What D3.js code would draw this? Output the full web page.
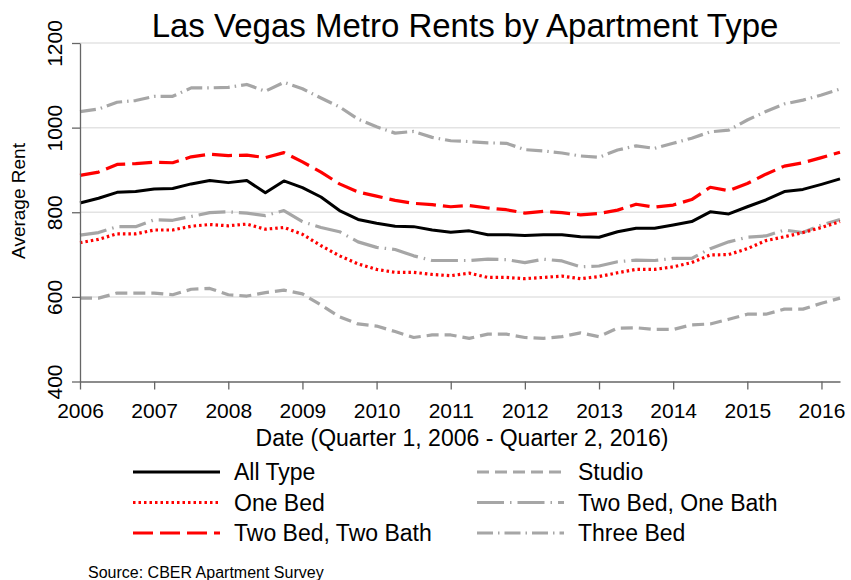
<!DOCTYPE html>
<html>
<head>
<meta charset="utf-8">
<script src="https://cdn.jsdelivr.net/npm/d3@7"></script>
<style>
  body { margin: 0; background: #fff; }
  svg { font-family: "Liberation Sans", Arial, sans-serif; }
</style>
</head>
<body>
<div id="chart"></div>
<script>
// quarters, Q1 2006 - Q2 2016
var quarters = ["2006Q1","2006Q2","2006Q3","2006Q4","2007Q1","2007Q2","2007Q3","2007Q4",
    "2008Q1","2008Q2","2008Q3","2008Q4","2009Q1","2009Q2","2009Q3","2009Q4",
    "2010Q1","2010Q2","2010Q3","2010Q4","2011Q1","2011Q2","2011Q3","2011Q4",
    "2012Q1","2012Q2","2012Q3","2012Q4","2013Q1","2013Q2","2013Q3","2013Q4",
    "2014Q1","2014Q2","2014Q3","2014Q4","2015Q1","2015Q2","2015Q3","2015Q4",
    "2016Q1","2016Q2"];

var allType = [822,833,847,849,855,856,867,875,870,875,846,874,858,836,804,783,
    774,767,766,758,753,756,747,747,745,747,747,742,741,754,762,762,
    770,778,801,796,813,829,849,854,866,879];
var oneBed = [728,736,749,749,758,758,767,771,768,772,760,764,748,721,697,678,
    665,658,658,653,650,656,646,646,643,646,649,643,648,657,665,665,
    671,681,699,700,714,733,742,752,764,778];
var twoBedTwoBath = [887,895,913,915,918,917,931,937,934,935,929,941,919,895,867,848,
    838,828,821,818,813,816,810,806,798,802,799,794,797,805,819,812,
    817,830,859,851,868,890,909,917,929,942];
var studio = [597,597,609,609,609,605,618,620,605,602,610,616,607,581,553,536,
    531,518,504,510,510,502,512,512,504,502,506,515,506,526,527,523,
    523,534,536,547,559,559,571,571,585,597];
var twoBedOneBath = [746,752,766,766,782,781,790,799,801,798,792,804,778,764,754,730,
    717,712,697,686,686,686,689,688,681,689,685,671,673,683,687,686,
    691,691,714,730,741,744,758,752,770,783];
var threeBed = [1038,1044,1060,1064,1074,1074,1094,1094,1095,1102,1086,1107,1092,1070,1049,1020,
    1002,987,991,977,969,967,964,963,948,945,940,933,930,947,957,951,
    963,975,990,994,1018,1038,1056,1065,1077,1091];

var yTicks = [400, 600, 800, 1000, 1200];
var xTicks = [2006, 2007, 2008, 2009, 2010, 2011, 2012, 2013, 2014, 2015, 2016];

var series = [
    {name: "All Type",          values: allType,       color: "#000000", width: 3,   dash: null,             col: 0, row: 0},
    {name: "One Bed",           values: oneBed,        color: "#ff0000", width: 3.2, dash: "2.5,3",          col: 0, row: 1},
    {name: "Two Bed, Two Bath", values: twoBedTwoBath, color: "#ff0000", width: 3.2, dash: "20,7",           col: 0, row: 2},
    {name: "Studio",            values: studio,        color: "#a6a6a6", width: 3.2, dash: "12,6",           col: 1, row: 0},
    {name: "Two Bed, One Bath", values: twoBedOneBath, color: "#a6a6a6", width: 3.2, dash: "27,6,1.5,6",     col: 1, row: 1},
    {name: "Three Bed",         values: threeBed,      color: "#a6a6a6", width: 3.2, dash: "16,5,1.5,5",     col: 1, row: 2}
];

// quarter label -> decimal year
function qToYear(q){
    return +q.slice(0,4) + (+q.slice(5) - 1) / 4;
}

var W = 851, H = 580;
var margin = {top: 43, right: 11, bottom: 198.5, left: 80};

var svg = d3.select("#chart").append("svg")
    .attr("width", W)
    .attr("height", H);

var x = d3.scaleLinear()
    .domain([2006, qToYear(quarters[quarters.length-1])])
    .range([margin.left, W - margin.right]);
var y = d3.scaleLinear()
    .domain([400, 1200])
    .range([H - margin.bottom, margin.top]);

// gridlines
svg.append("g")
    .selectAll("line")
    .data(yTicks.slice(1))
    .enter().append("line")
    .attr("x1", x.range()[0]).attr("x2", x.range()[1])
    .attr("y1", function(d){ return y(d); })
    .attr("y2", function(d){ return y(d); })
    .attr("stroke", "#e3e3e3")
    .attr("stroke-width", 1.5);

// lines
var line = d3.line()
    .x(function(d, i){ return x(qToYear(quarters[i])); })
    .y(function(d){ return y(d); });

svg.append("g")
    .selectAll("path")
    .data(series.slice().reverse())
    .enter().append("path")
    .attr("d", function(s){ return line(s.values); })
    .attr("fill", "none")
    .attr("stroke", function(s){ return s.color; })
    .attr("stroke-width", function(s){ return s.width; })
    .attr("stroke-dasharray", function(s){ return s.dash; })
    .attr("stroke-linejoin", "round");

// axes
var yAxis = svg.append("g")
    .attr("transform", "translate(" + margin.left + ",0)")
    .call(d3.axisLeft(y).tickValues(yTicks).tickSize(8).tickSizeOuter(0).tickFormat(d3.format("d")));
yAxis.selectAll("text")
    .attr("x", null).attr("dy", null)
    .attr("transform", "translate(-18,0) rotate(-90)")
    .attr("text-anchor", "middle")
    .style("font-size", "21px")
    .attr("fill", "#000");

var xAxis = svg.append("g")
    .attr("transform", "translate(0," + y.range()[0] + ")")
    .call(d3.axisBottom(x).tickValues(xTicks).tickSize(8).tickSizeOuter(0).tickFormat(d3.format("d")));
xAxis.selectAll("text")
    .attr("y", 22)
    .style("font-size", "21px")
    .attr("fill", "#000");

svg.selectAll(".domain, .tick line").attr("stroke", "#666").attr("stroke-width", 1.3);

// titles
svg.append("text")
    .attr("x", 465).attr("y", 37)
    .attr("text-anchor", "middle")
    .style("font-size", "33px")
    .text("Las Vegas Metro Rents by Apartment Type");

svg.append("text")
    .attr("transform", "translate(25,201) rotate(-90)")
    .attr("text-anchor", "middle")
    .style("font-size", "19px")
    .text("Average Rent");

svg.append("text")
    .attr("x", 462).attr("y", 446)
    .attr("text-anchor", "middle")
    .style("font-size", "23px")
    .text("Date (Quarter 1, 2006 - Quarter 2, 2016)");

// legend
var colX = [133, 477];
var legend = svg.append("g")
    .selectAll("g")
    .data(series)
    .enter().append("g")
    .attr("transform", function(s){ return "translate(" + colX[s.col] + "," + (472 + s.row * 30.5) + ")"; });

legend.append("line")
    .attr("x1", 0).attr("x2", 87)
    .attr("stroke", function(s){ return s.color; })
    .attr("stroke-width", function(s){ return s.width; })
    .attr("stroke-dasharray", function(s){ return s.dash; });

legend.append("text")
    .attr("x", 101)
    .attr("dy", "0.35em")
    .style("font-size", "23px")
    .text(function(s){ return s.name; });

svg.append("text")
    .attr("x", 88).attr("y", 578)
    .style("font-size", "16px")
    .text("Source: CBER Apartment Survey");
</script>
</body>
</html>
